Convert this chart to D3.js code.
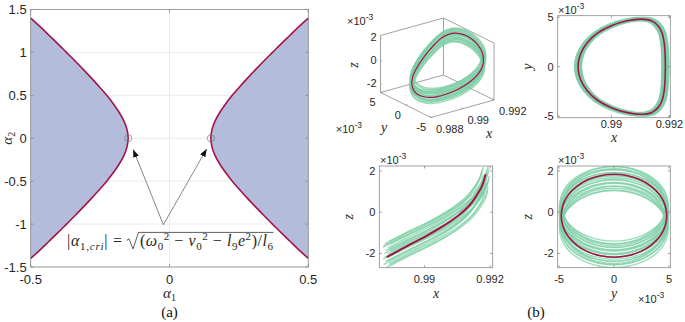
<!DOCTYPE html>
<html><head><meta charset="utf-8">
<script src="https://cdn.jsdelivr.net/npm/d3@7"></script>
<style>body{margin:0;background:#fff}svg{display:block}</style>
</head><body>
<svg id="c" width="685" height="322"></svg>
<script>
// ---------------- DATA ----------------
// Panel (a): stability boundary (right branch; left branch is its mirror)
const aTicksX = [-0.5, 0, 0.5];
const aTicksY = [-1.5, -1, -0.5, 0, 0.5, 1, 1.5];
const boundaryA2 = [-1.4,-1.3,-1.2,-1.1,-1.0,-0.9,-0.8,-0.7,-0.6,-0.5,-0.4,-0.3,-0.2,-0.1,0,0.1,0.2,0.3,0.4,0.5,0.6,0.7,0.8,0.9,1.0,1.1,1.2,1.3,1.4];
const boundaryA1 = [0.500,0.466,0.434,0.402,0.371,0.340,0.310,0.281,0.253,0.226,0.202,0.181,0.164,0.153,0.149,0.153,0.164,0.181,0.202,0.226,0.253,0.281,0.310,0.340,0.371,0.402,0.434,0.466,0.500];
const critA1 = [-0.149, 0.149];
const arrowFrom = [-0.022, -1.007];
const arrowToA1 = [-0.131, 0.134];
const arrowToA2 = [-0.13, -0.124];
const formulaAt = [0, -1.26];

// Panel (b): periodic orbit (red) sampled every 15 degrees of phase, units: x, y*1e3, z*1e3
const orbitX = [0.99186,0.99185,0.99182,0.99175,0.99160,0.99138,0.99102,0.99055,0.99002,0.98952,0.98916,0.98893,0.98885,0.98893,0.98916,0.98952,0.99002,0.99055,0.99102,0.99138,0.99160,0.99175,0.99182,0.99185];
const orbitY = [0,1.24,2.40,3.39,4.16,4.64,4.80,4.64,4.16,3.39,2.40,1.24,0,-1.24,-2.40,-3.39,-4.16,-4.64,-4.80,-4.64,-4.16,-3.39,-2.40,-1.24];
const orbitZ = [1.84,1.77,1.57,1.25,0.84,0.35,-0.17,-0.69,-1.18,-1.59,-1.91,-2.11,-2.18,-2.11,-1.91,-1.59,-1.18,-0.69,-0.17,0.35,0.84,1.25,1.57,1.77];
// perturbed trajectories (green): per-loop offsets
const greenDx = [0.00008,-0.00006,0.00011,-0.00010,0.00004,-0.00012,0.00007,-0.00003,0.00012,-0.00008,0.00003,0.00010,-0.00007,0.00005,-0.00011,0.00001,-0.00004,0.00008,-0.00010,0.00007,-0.00002];
const greenSy = [1.02,0.98,1.03,0.97,1.01,0.99,1.04,0.975,1.015,0.985,1.03,0.995,1.025,0.98,1.035,0.99,1.01,0.97,1.02,1.0,1.03];
const greenSz = [0.90,0.93,0.91,0.92,0.94,0.90,0.93,0.92,0.91,0.94,0.92,0.91,0.93,0.90,0.92,0.94,0.91,0.93,0.92,0.90,0.93];
const greenDz = [0.56,0.50,0.44,0.38,0.33,0.27,0.21,0.15,0.10,0.04,-0.02,-0.08,-0.15,-0.21,-0.27,-0.33,-0.40,-0.46,-0.53,-0.59,-0.66];

const xTicks3 = [0.988, 0.99, 0.992];
const yTicks3 = [-5, 0, 5];
const zTicks3 = [-2, 0, 2];
const xyXTicks = [0.99, 0.992];
const xyYTicks = [-5, 0, 5];
const xzXTicks = [0.99, 0.992];
const xzZTicks = [-2, 0, 2];
const yzYTicks = [-5, 0, 5];
const yzZTicks = [-2, 0, 2];

// ---------------- STYLE ----------------
const SANS = "'Liberation Sans', Arial, Helvetica, sans-serif";
const SERIF = "'Liberation Serif', 'Times New Roman', serif";
const AX = '#8a8a8a', TXT = '#262626', RED = '#a3154a', GREEN = '#7dcfa6', FILL = '#b4bcdc';

const svg = d3.select('#c');
const defs = svg.append('defs');
defs.append('marker').attr('id','ah').attr('markerUnits','userSpaceOnUse')
  .attr('markerWidth',9).attr('markerHeight',7).attr('refX',8).attr('refY',3).attr('orient','auto')
  .append('path').attr('d','M0,0 L8,3 L0,6 Z').attr('fill','#111');

function fmt(v){ return String(v); }

// ---------------- PANEL (a) ----------------
const xA = d3.scaleLinear().domain([-0.5,0.5]).range([30.7,308.3]);
const yA = d3.scaleLinear().domain([-1.5,1.5]).range([267,9.5]);
const ga = svg.append('g');
ga.selectAll('.gx').data(aTicksX).join('line')
  .attr('x1',d=>xA(d)).attr('x2',d=>xA(d)).attr('y1',yA(-1.5)).attr('y2',yA(1.5))
  .attr('stroke','#e6e6e6').attr('stroke-width',0.8);
ga.selectAll('.gy').data(aTicksY).join('line')
  .attr('y1',d=>yA(d)).attr('y2',d=>yA(d)).attr('x1',xA(-0.5)).attr('x2',xA(0.5))
  .attr('stroke','#e6e6e6').attr('stroke-width',0.8);

const bpts = boundaryA2.map((a2,i)=>({a2, a1: boundaryA1[i]}));
ga.append('path').datum(bpts).attr('fill',FILL)
  .attr('d', d3.area().y(d=>yA(d.a2)).x0(d=>xA(d.a1)).x1(()=>xA(0.5)).curve(d3.curveCatmullRom));
ga.append('path').datum(bpts).attr('fill',FILL)
  .attr('d', d3.area().y(d=>yA(d.a2)).x0(d=>xA(-d.a1)).x1(()=>xA(-0.5)).curve(d3.curveCatmullRom));
ga.append('path').datum(bpts).attr('fill','none').attr('stroke',RED).attr('stroke-width',1.6)
  .attr('d', d3.line().y(d=>yA(d.a2)).x(d=>xA(d.a1)).curve(d3.curveCatmullRom));
ga.append('path').datum(bpts).attr('fill','none').attr('stroke',RED).attr('stroke-width',1.6)
  .attr('d', d3.line().y(d=>yA(d.a2)).x(d=>xA(-d.a1)).curve(d3.curveCatmullRom));

// box + ticks
ga.append('rect').attr('x',xA(-0.5)).attr('y',yA(1.5)).attr('width',xA(0.5)-xA(-0.5)).attr('height',yA(-1.5)-yA(1.5))
  .attr('fill','none').attr('stroke',AX).attr('stroke-width',0.8);
aTicksX.forEach(v=>{
  ga.append('line').attr('x1',xA(v)).attr('x2',xA(v)).attr('y1',yA(-1.5)).attr('y2',yA(-1.5)-3).attr('stroke',AX).attr('stroke-width',0.8);
  ga.append('line').attr('x1',xA(v)).attr('x2',xA(v)).attr('y1',yA(1.5)).attr('y2',yA(1.5)+3).attr('stroke',AX).attr('stroke-width',0.8);
});
aTicksY.forEach(v=>{
  ga.append('line').attr('y1',yA(v)).attr('y2',yA(v)).attr('x1',xA(-0.5)).attr('x2',xA(-0.5)+3).attr('stroke',AX).attr('stroke-width',0.8);
  ga.append('line').attr('y1',yA(v)).attr('y2',yA(v)).attr('x1',xA(0.5)).attr('x2',xA(0.5)-3).attr('stroke',AX).attr('stroke-width',0.8);
});
ga.selectAll('.tx').data(aTicksX).join('text').attr('x',d=>xA(d)).attr('y',yA(-1.5)+17)
  .attr('text-anchor','middle').attr('font-family',SANS).attr('font-size',13).attr('fill',TXT).text(d=>fmt(d));
ga.selectAll('.ty').data(aTicksY).join('text').attr('x',xA(-0.5)-4).attr('y',d=>yA(d)+4.5)
  .attr('text-anchor','end').attr('font-family',SANS).attr('font-size',13).attr('fill',TXT).text(d=>fmt(d));

// axis labels
const la1 = ga.append('text').attr('x',xA(0)).attr('y',298).attr('text-anchor','middle')
  .attr('font-family',SERIF).attr('font-size',15).attr('fill',TXT);
la1.append('tspan').attr('font-style','italic').text('α');
la1.append('tspan').attr('font-size',10).attr('dy',3).text('1');
const la2 = ga.append('text').attr('transform',`translate(12,${yA(0)}) rotate(-90)`).attr('text-anchor','middle')
  .attr('font-family',SERIF).attr('font-size',15).attr('fill',TXT);
la2.append('tspan').attr('font-style','italic').text('α');
la2.append('tspan').attr('font-size',10).attr('dy',3).text('2');

// critical points + arrows
ga.selectAll('.crit').data(critA1).join('circle').attr('cx',d=>xA(d)).attr('cy',yA(0)).attr('r',3.6)
  .attr('fill','none').attr('stroke','#777').attr('stroke-width',0.7);
arrowToA1.forEach((a1,i)=>{
  ga.append('line').attr('x1',xA(arrowFrom[0])).attr('y1',yA(arrowFrom[1]))
    .attr('x2',xA(a1)).attr('y2',yA(arrowToA2[i])).attr('stroke','#555').attr('stroke-width',0.7)
    .attr('marker-end','url(#ah)');
});

// formula
const fx = xA(formulaAt[0]), fy = yA(formulaAt[1]);
const fA = ga.append('text').attr('x',fx-102.5).attr('y',fy).attr('font-family',SERIF).attr('font-size',16).attr('fill',TXT)
  .attr('textLength',55).attr('lengthAdjust','spacing');
fA.append('tspan').text('|');
fA.append('tspan').attr('font-style','italic').text('α');
fA.append('tspan').attr('font-size',11).attr('dy',3.5).text('1,');
fA.append('tspan').attr('font-size',11).attr('font-style','italic').text('cri');
fA.append('tspan').attr('dy',-3.5).text('| =');
ga.append('path').attr('d',`M${fx-43},${fy-6} L${fx-40.5},${fy-7.5} L${fx-36.5},${fy+2.5} L${fx-31},${fy-14} L${fx+104},${fy-14}`)
  .attr('fill','none').attr('stroke','#333').attr('stroke-width',0.8);
const fB = ga.append('text').attr('x',fx-29.5).attr('y',fy).attr('font-family',SERIF).attr('font-size',16).attr('fill',TXT)
  .attr('textLength',133).attr('lengthAdjust','spacing');
function sub(t,s){ t.append('tspan').attr('font-size',11).attr('dy',3.5).text(s); }
function supAfterSub(t,s){ t.append('tspan').attr('font-size',11).attr('dy',-10).text(s); }
fB.append('tspan').text('(');
fB.append('tspan').attr('font-style','italic').text('ω');
sub(fB,'0'); supAfterSub(fB,'2');
fB.append('tspan').attr('dy',6.5).text(' − ');
fB.append('tspan').attr('font-style','italic').text('ν');
sub(fB,'0'); supAfterSub(fB,'2');
fB.append('tspan').attr('dy',6.5).text(' − ');
fB.append('tspan').attr('font-style','italic').text('l');
sub(fB,'9');
fB.append('tspan').attr('font-style','italic').attr('dy',-3.5).text('e');
fB.append('tspan').attr('font-size',11).attr('dy',-6.5).text('2');
fB.append('tspan').attr('dy',6.5).text(')/');
fB.append('tspan').attr('font-style','italic').text('l');
sub(fB,'6');

svg.append('text').attr('x',xA(0)).attr('y',317).attr('text-anchor','middle').attr('font-family',SERIF)
  .attr('font-size',15).attr('fill','#111').text('(a)');

// ---------------- PANEL (b) ----------------
const gb = svg.append('g');
const red = orbitX.map((x,i)=>({x, y: orbitY[i], z: orbitZ[i]}));
const greens = greenDz.map((dz,k)=>red.map(p=>({x: p.x + greenDx[k], y: p.y*greenSy[k], z: p.z*greenSz[k] + dz})));

function sci(g, x, y, anchor){
  const t = g.append('text').attr('x',x).attr('y',y).attr('text-anchor',anchor||'start')
    .attr('font-family',SANS).attr('font-size',11).attr('fill',TXT);
  t.append('tspan').text('×10');
  t.append('tspan').attr('font-size',8.5).attr('dy',-5).text('-3');
}
function mathLabel(g, x, y, s, rot){
  const t = g.append('text').attr('text-anchor','middle').attr('font-family',SERIF).attr('font-style','italic')
    .attr('font-size',14).attr('fill',TXT).text(s);
  if (rot) t.attr('transform',`translate(${x},${y}) rotate(-90)`); else t.attr('x',x).attr('y',y);
}
function drawGreens(target, lineGen){
  greens.forEach(gl=>target.append('path').attr('d',lineGen(gl)).attr('fill','none')
    .attr('stroke',GREEN).attr('stroke-width',1.4).attr('stroke-opacity',0.75));
}

let clipId = 0;
function plot2D(o){
  const g = gb.append('g');
  const [L,R] = o.xs.range(), [B,T] = o.ys.range();
  const id = 'cl'+(clipId++);
  defs.append('clipPath').attr('id',id).append('rect').attr('x',L).attr('y',T).attr('width',R-L).attr('height',B-T);
  const inner = g.append('g').attr('clip-path',`url(#${id})`);
  const line = d3.line().x(d=>o.xs(d[o.kx])).y(d=>o.ys(d[o.ky])).curve(d3.curveCatmullRomClosed);
  drawGreens(inner, line);
  inner.append('path').attr('d',line(red)).attr('fill','none').attr('stroke',RED).attr('stroke-width',o.rw||1.6);
  g.append('rect').attr('x',L).attr('y',T).attr('width',R-L).attr('height',B-T)
    .attr('fill','none').attr('stroke',AX).attr('stroke-width',0.8);
  o.xt.forEach(v=>{
    g.append('line').attr('x1',o.xs(v)).attr('x2',o.xs(v)).attr('y1',B).attr('y2',B-2.5).attr('stroke',AX).attr('stroke-width',0.8);
    g.append('line').attr('x1',o.xs(v)).attr('x2',o.xs(v)).attr('y1',T).attr('y2',T+2.5).attr('stroke',AX).attr('stroke-width',0.8);
    g.append('text').attr('x',o.xs(v)).attr('y',B+o.xtOff).attr('text-anchor','middle')
      .attr('font-family',SANS).attr('font-size',11).attr('fill',TXT).text(fmt(v));
  });
  o.yt.forEach(v=>{
    g.append('line').attr('y1',o.ys(v)).attr('y2',o.ys(v)).attr('x1',L).attr('x2',L+2.5).attr('stroke',AX).attr('stroke-width',0.8);
    g.append('line').attr('y1',o.ys(v)).attr('y2',o.ys(v)).attr('x1',R).attr('x2',R-2.5).attr('stroke',AX).attr('stroke-width',0.8);
    g.append('text').attr('x',L-4).attr('y',o.ys(v)+4).attr('text-anchor','end')
      .attr('font-family',SANS).attr('font-size',11).attr('fill',TXT).text(fmt(v));
  });
  mathLabel(g, (L+R)/2, B+o.xlOff, o.xl, false);
  mathLabel(g, L-26, (T+B)/2, o.yl, true);
  return g;
}

// top-right: x-y
const gXY = plot2D({xs: d3.scaleLinear().domain([0.98815,0.99203]).range([557.7,670.3]),
  ys: d3.scaleLinear().domain([-5.15,5.15]).range([117.7,15.7]), kx:'x', ky:'y',
  xt: xyXTicks, yt: xyYTicks, xl:'x', yl:'y', xtOff: 10.5, xlOff: 24.5});
sci(gXY, 558, 14);

// bottom-left: x-z
const gXZ = plot2D({xs: d3.scaleLinear().domain([0.98862,0.99208]).range([379.3,492.7]),
  ys: d3.scaleLinear().domain([-2.69,2.24]).range([267.7,166]), kx:'x', ky:'z',
  xt: xzXTicks, yt: xzZTicks, xl:'x', yl:'z', xtOff: 15.5, xlOff: 30, rw: 2});
sci(gXZ, 380, 163.5);

// bottom-right: y-z
const gYZ = plot2D({xs: d3.scaleLinear().domain([-5.12,5.12]).range([557.7,670.3]),
  ys: d3.scaleLinear().domain([-2.69,2.24]).range([267.7,166]), kx:'y', ky:'z',
  xt: yzYTicks, yt: yzZTicks, xl:'y', yl:'z', xtOff: 15.5, xlOff: 30});
sci(gYZ, 558, 163.5);
sci(gYZ, 638, 303);

// top-left: 3D view
const O = [431,117.5], EX = [63,-17.5], EY = [-50.5,-25], EZ = [0,-57];
const nx = d3.scaleLinear().domain([0.988,0.992]).range([0,1]);
const ny = d3.scaleLinear().domain([-5,5]).range([0,1]);
const nz = d3.scaleLinear().domain([-2.7,2.25]).range([0,1]);
function P(x,y,z){ const a=nx(x), b=ny(y), c=nz(z);
  return [O[0]+a*EX[0]+b*EY[0]+c*EZ[0], O[1]+a*EX[1]+b*EY[1]+c*EZ[1]]; }
const g3 = gb.append('g');
const [x0,x1] = nx.domain(), [y0,y1] = ny.domain(), [z0,z1] = nz.domain();
const edges = [
  [[x0,y0,z0],[x1,y0,z0]], [[x0,y0,z0],[x0,y1,z0]], [[x1,y0,z0],[x1,y1,z0]], [[x0,y1,z0],[x1,y1,z0]],
  [[x1,y0,z0],[x1,y0,z1]], [[x1,y1,z0],[x1,y1,z1]], [[x0,y1,z0],[x0,y1,z1]],
  [[x1,y0,z1],[x1,y1,z1]], [[x0,y1,z1],[x1,y1,z1]]
];
edges.forEach(([a,b])=>{ const p=P(...a), q=P(...b);
  g3.append('line').attr('x1',p[0]).attr('y1',p[1]).attr('x2',q[0]).attr('y2',q[1]).attr('stroke',AX).attr('stroke-width',0.8); });
const line3 = d3.line().x(d=>P(d.x,d.y,d.z)[0]).y(d=>P(d.x,d.y,d.z)[1]).curve(d3.curveCatmullRomClosed);
drawGreens(g3, line3);
g3.append('path').attr('d',line3(red)).attr('fill','none').attr('stroke',RED).attr('stroke-width',1.2);
// ticks + labels
xTicks3.forEach(v=>{ const p=P(v,y0,z0), q=P(v,y0+0.25,z0);
  g3.append('line').attr('x1',p[0]).attr('y1',p[1]).attr('x2',q[0]).attr('y2',q[1]).attr('stroke',AX).attr('stroke-width',0.8);
  g3.append('text').attr('x',p[0]+5).attr('y',p[1]+15).attr('font-family',SANS).attr('font-size',11).attr('fill',TXT).text(fmt(v)); });
yTicks3.forEach(v=>{ const p=P(x0,v,z0), q=P(x0+0.0001,v,z0);
  g3.append('line').attr('x1',p[0]).attr('y1',p[1]).attr('x2',q[0]).attr('y2',q[1]).attr('stroke',AX).attr('stroke-width',0.8);
  g3.append('text').attr('x',p[0]-5).attr('y',p[1]+13.5).attr('text-anchor','end').attr('font-family',SANS).attr('font-size',11).attr('fill',TXT).text(fmt(v)); });
zTicks3.forEach(v=>{ const p=P(x0,y1,v), q=P(x0+0.00008,y1,v);
  g3.append('line').attr('x1',p[0]).attr('y1',p[1]).attr('x2',q[0]).attr('y2',q[1]).attr('stroke',AX).attr('stroke-width',0.8);
  g3.append('text').attr('x',p[0]-4).attr('y',p[1]+3).attr('text-anchor','end').attr('font-family',SANS).attr('font-size',11).attr('fill',TXT).text(fmt(v)); });
sci(g3, 347, 25);
sci(g3, 362, 133, 'end');
mathLabel(g3, 358, 65, 'z', true);
mathLabel(g3, 384, 132, 'y', false);
mathLabel(g3, 489, 138, 'x', false);

svg.append('text').attr('x',536).attr('y',317).attr('text-anchor','middle').attr('font-family',SERIF)
  .attr('font-size',15).attr('fill','#111').text('(b)');
</script>
</body></html>
